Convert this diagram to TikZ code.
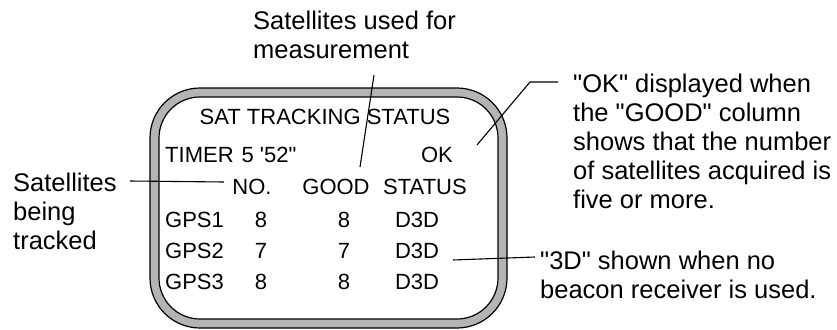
\documentclass[tikz,border=0pt]{standalone}
\usepackage{fontspec}
\setmainfont{Liberation Sans}
\usetikzlibrary{positioning}
\definecolor{BezelGray}{HTML}{B4B4B4}

\begin{document}
\begin{tikzpicture}[x=1pt,y=-1pt,
  lbl/.style={inner sep=0pt,align=left,anchor=west,
    font=\fontsize{25.5}{29}\selectfont},
  scr/.style={inner sep=0pt,font=\fontsize{22}{25}\selectfont},
  lead/.style={line width=1.1pt,color=black}
]
  \useasboundingbox (0,0) rectangle (837,329);
  % display bezel
  \draw[line width=1.2pt,fill=BezelGray,rounded corners=50pt] (150,88) rectangle (507,328);
  \draw[line width=1.2pt,fill=white,rounded corners=41pt] (159,97) rectangle (498,319);
  % screen contents
  \node[scr] (title) at (325,117) {SAT TRACKING STATUS};
  \node[scr,anchor=west] (timer) at (165,155) {TIMER\hspace{8pt}5 \textquotesingle52\textquotedbl};
  \node[scr] (ok) at (437,155) {OK};
  \node[scr] (hno) at (252,187) {NO.};
  \node[scr] (hgood) at (336,187) {GOOD};
  \node[scr] (hstat) at (425,187) {STATUS};
  \foreach \n/\g [count=\i] in {8/8,7/7,8/8}
  {
    \node[scr,anchor=west] (gps\i) at (165,{189+31*\i}) {GPS\i};
    \node[scr] (no\i) at (261,{189+31*\i}) {\n};
    \node[scr] (good\i) at (344,{189+31*\i}) {\g};
    \node[scr] (stat\i) at (417,{189+31*\i}) {D3D};
  }
  % callouts
  \node[lbl] (meas) at (253,35) {Satellites used for\\measurement};
  \node[lbl] (okinfo) at (573,141) {\textquotedbl OK\textquotedbl{} displayed when\\the \textquotedbl GOOD\textquotedbl{} column\\shows that the number\\of satellites acquired is\\five or more.};
  \node[lbl] (noinfo) at (540,275) {\textquotedbl 3D\textquotedbl{} shown when no\\beacon receiver is used.};
  \node[lbl] (tracked) at (13,211) {Satellites\\being\\tracked};
  \coordinate (meastail) at (374,75);
  \coordinate (goodtip) at (360,167);
  \coordinate (oktail) at (558,82);
  \coordinate (okknee) at (530,82);
  \coordinate (oktip) at (477,145);
  \coordinate (d3dtail) at (535,257);
  \coordinate (d3dtip) at (453,260);
  \coordinate (trktail) at (130,181);
  \coordinate (notip) at (224,182);
  \draw[lead] (meastail) -- (goodtip);
  \draw[lead] (oktail) -- (okknee) -- (oktip);
  \draw[lead] (d3dtail) -- (d3dtip);
  \draw[lead] (trktail) -- (notip);
\end{tikzpicture}
\end{document}
